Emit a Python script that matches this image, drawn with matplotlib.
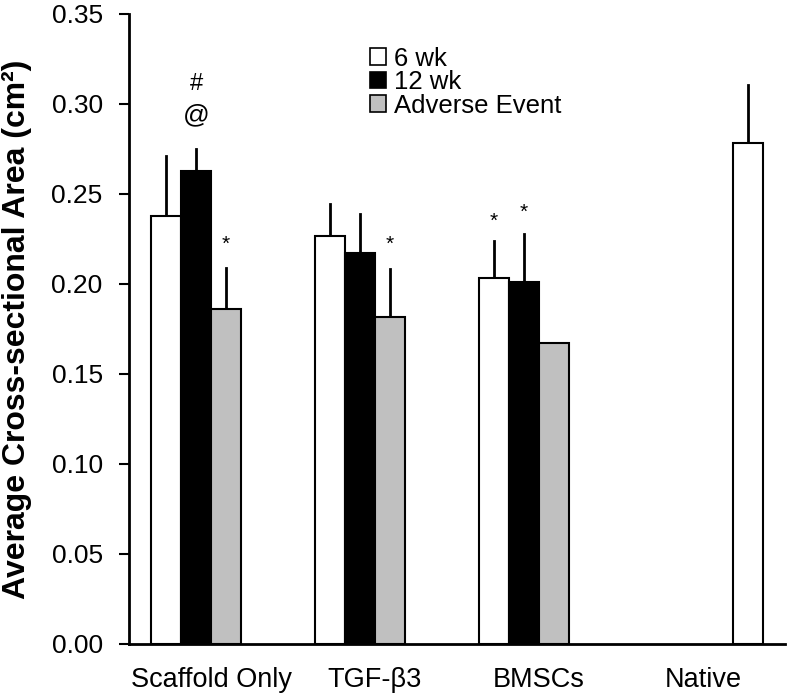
import numpy as np
import matplotlib
matplotlib.use("Agg")
from matplotlib import pyplot as plt
from matplotlib.patches import Patch

plt.rcParams['font.family'] = ['Liberation Sans', 'DejaVu Sans']

categories = ["Scaffold Only", "TGF-\u03b23", "BMSCs", "Native"]
# 4 series per category, like the original spreadsheet chart
wk6 = [0.2378, 0.2267, 0.2031, np.nan]
wk6_err = [0.0332, 0.0177, 0.0209, np.nan]
wk12 = [0.2628, 0.2172, 0.2013, np.nan]
wk12_err = [0.0122, 0.0218, 0.0265, np.nan]
adverse = [0.1861, 0.1815, 0.1674, np.nan]
adverse_err = [0.0226, 0.0268, 0.0, np.nan]
native = [np.nan, np.nan, np.nan, 0.2780]
native_err = [np.nan, np.nan, np.nan, 0.0327]

yticks = [0.00, 0.05, 0.10, 0.15, 0.20, 0.25, 0.30, 0.35]

fig = plt.figure(figsize=(7.92, 6.96), dpi=100)
ax = fig.add_axes([0.163, 0.075, 0.828, 0.905])

x = np.arange(len(categories))
w = 0.183
series = [(wk6, wk6_err, "white"), (wk12, wk12_err, "black"),
          (adverse, adverse_err, "#c0c0c0"), (native, native_err, "white")]
offsets = [-1.5, -0.5, 0.5, 1.5]

for (vals, errs, col), off in zip(series, offsets):
    vals = np.array(vals, dtype=float)
    errs = np.array(errs, dtype=float)
    pos = x + off * w
    ax.bar(pos, vals, width=w, color=col, edgecolor="black", linewidth=1.5, zorder=2)
    # upper error bars only, no caps
    for p, v, e in zip(pos, vals, errs):
        if np.isnan(v) or e <= 0:
            continue
        ax.plot([p, p], [v, v + e], color="black", linewidth=2, zorder=1)

# significance marks
star_kw = dict(ha="center", va="center", fontsize=15)
ax.text(x[0] + 0.5 * w, 0.222, "*", **star_kw)
ax.text(x[1] + 0.5 * w, 0.222, "*", **star_kw)
ax.text(x[2] - 1.5 * w, 0.235, "*", **star_kw)
ax.text(x[2] - 0.5 * w, 0.240, "*", **star_kw)
ax.text(x[0] - 0.5 * w, 0.311, "#", ha="center", va="center", fontsize=17)
ax.text(x[0] - 0.5 * w, 0.2935, "@", ha="center", va="center", fontsize=19)

ax.set_xlim(-0.5, 3.5)
ax.set_ylim(0, 0.35)
ax.set_yticks(yticks)
ax.set_yticklabels(["%.2f" % t for t in yticks])
ax.set_xticks(x)
ax.set_xticklabels(categories)
ax.tick_params(axis="x", length=0, labelsize=19.5, pad=17)
ax.tick_params(axis="y", direction="out", length=7, width=1.5, labelsize=19, pad=12)

for s in ["top", "right"]:
    ax.spines[s].set_visible(False)
for s in ["left", "bottom"]:
    ax.spines[s].set_linewidth(2)

ax.set_ylabel("Average Cross-sectional Area (cm\u00b2)", fontsize=23, fontweight="bold")
ax.yaxis.set_label_coords(-0.148, 0.5)

handles = [Patch(facecolor="white", edgecolor="black", linewidth=1.2),
           Patch(facecolor="black", edgecolor="black", linewidth=1.2),
           Patch(facecolor="#c0c0c0", edgecolor="black", linewidth=1.2)]
ax.legend(handles, ["6 wk", "12 wk", "Adverse Event"], frameon=False,
          loc="upper left", bbox_to_anchor=(0.368, 0.948), fontsize=18.5,
          handlelength=0.6, handleheight=0.6, handletextpad=0.3,
          labelspacing=-0.02, borderaxespad=0, borderpad=0)

fig.savefig("out.png", dpi=100)
